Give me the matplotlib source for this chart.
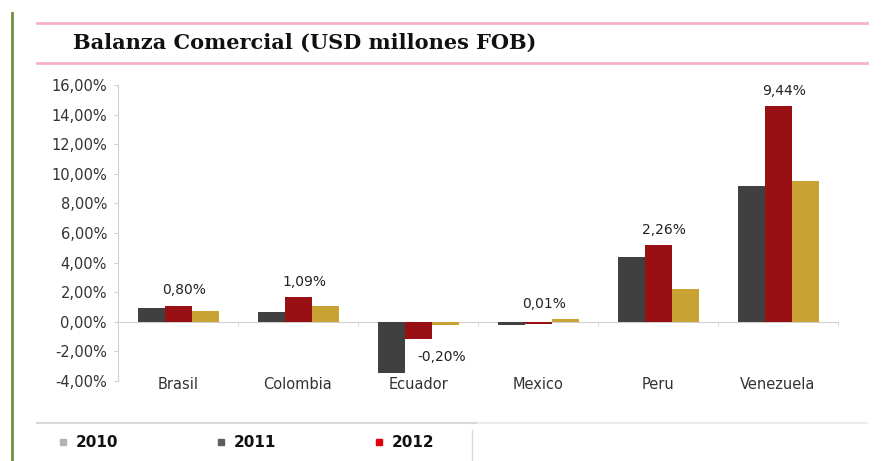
import numpy as np
import matplotlib
matplotlib.use("Agg")
import matplotlib.pyplot as plt
from matplotlib.lines import Line2D
from matplotlib.patches import Rectangle
from matplotlib.ticker import FuncFormatter

# data (percent)
countries = ["Brasil", "Colombia", "Ecuador", "Mexico", "Peru", "Venezuela"]
vals_dark = [0.95, 0.63, -3.47, -0.25, 4.41, 9.19]
vals_red = [1.10, 1.67, -1.15, -0.15, 5.20, 14.55]
vals_gold = [0.74, 1.08, -0.25, 0.18, 2.20, 9.48]
point_labels = ["0,80%", "1,09%", "-0,20%", "0,01%", "2,26%", "9,44%"]

legend_names = ["2010", "2011", "2012"]
legend_colors = ["#b4b4b4", "#5e5e5e", "#e3000f"]
bar_colors = ["#404040", "#981014", "#c8a232"]

W, H = 885, 461
fig = plt.figure(figsize=(W / 100, H / 100), dpi=100)


def fx(x):
    return x / W


def fy(y):
    return 1 - y / H


ax = fig.add_axes([fx(118), fy(381), fx(720), 296 / H])

x = np.arange(len(countries))
bw = 0.225
for k, (vals, col) in enumerate(zip([vals_dark, vals_red, vals_gold], bar_colors)):
    ax.bar(x + (k - 1) * bw, vals, width=bw, color=col, zorder=3)

# value labels
for i, txt in enumerate(point_labels):
    group = [vals_dark[i], vals_red[i], vals_gold[i]]
    if txt.startswith("-"):
        ax.annotate(txt, (i + 0.2, vals_red[i]), xytext=(0, -13),
                    textcoords="offset points", ha="center", va="center",
                    fontsize=10, color="#222222")
    else:
        ax.annotate(txt, (i + 0.05, max(group)), xytext=(0, 11),
                    textcoords="offset points", ha="center", va="center",
                    fontsize=10, color="#222222")

ax.set_xlim(-0.5, len(countries) - 0.5)
ax.set_ylim(-4, 16)
ax.set_yticks(np.arange(-4, 17, 2))
ax.yaxis.set_major_formatter(FuncFormatter(lambda v, p: f"{v:.2f}%".replace(".", ",")))

for s in ["top", "right"]:
    ax.spines[s].set_visible(False)
ax.spines["left"].set_color("#d0d0d0")
ax.spines["bottom"].set_position(("data", 0))
ax.spines["bottom"].set_color("#d0d0d0")

ax.set_xticks(x)
ax.set_xticklabels(countries, fontsize=10.5, color="#333333")
ax.tick_params(axis="x", which="major", length=0, pad=40)
ax.set_xticks(np.arange(-0.5, len(countries)), minor=True)
ax.tick_params(axis="x", which="minor", length=3, color="#d0d0d0", direction="out")
ax.tick_params(axis="y", length=3, pad=5, color="#d0d0d0", labelsize=10.5,
               labelcolor="#333333")

# frame decorations
fig.add_artist(Line2D([fx(12), fx(12)], [fy(13), fy(461)], transform=fig.transFigure,
                      color="#6f8f3c", lw=2))
for yy in [23, 63]:
    fig.add_artist(Line2D([fx(37), fx(867)], [fy(yy), fy(yy)], transform=fig.transFigure,
                          color="#f4b3c2", lw=2))
fig.text(fx(73), fy(43), "Balanza Comercial (USD millones FOB)", family="DejaVu Serif",
         weight="bold", fontsize=15, va="center", ha="left", color="#111111")

# legend strip
fig.add_artist(Line2D([fx(37), fx(478)], [fy(423), fy(423)], transform=fig.transFigure,
                      color="#d8d8d8", lw=1.5))
fig.add_artist(Line2D([fx(478), fx(867)], [fy(423), fy(423)], transform=fig.transFigure,
                      color="#ececec", lw=1.5))
fig.add_artist(Line2D([fx(472), fx(472)], [fy(430), fy(461)], transform=fig.transFigure,
                      color="#d8d8d8", lw=1))
for k, (name, col) in enumerate(zip(legend_names, legend_colors)):
    sx = 60 + k * 158
    fig.add_artist(Rectangle((fx(sx), fy(445)), fx(6), 6 / H, transform=fig.transFigure,
                             color=col))
    fig.text(fx(sx + 16), fy(442), name, weight="bold", fontsize=11, va="center",
             ha="left", color="#111111")

fig.savefig("out.png", dpi=100)
